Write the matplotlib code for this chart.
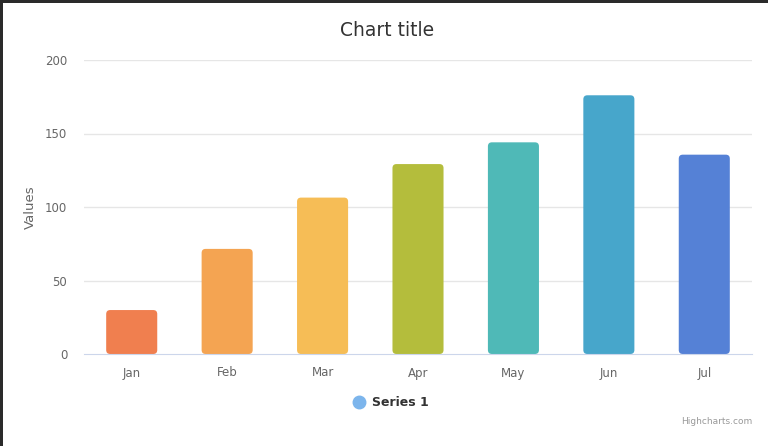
import matplotlib
matplotlib.use("Agg")
import matplotlib.pyplot as plt
from matplotlib.patches import FancyBboxPatch, Rectangle
from matplotlib.lines import Line2D

months = ["Jan", "Feb", "Mar", "Apr", "May", "Jun", "Jul"]
values = [29.9, 71.5, 106.4, 129.2, 144.0, 176.0, 135.6]
colors = ["#f07f4f", "#f4a452", "#f6bd56", "#b4bd3c", "#4fb9b7", "#47a6cb", "#5581d6"]
yticks = [0, 50, 100, 150, 200]

W, H = 768, 446
fig = plt.figure(figsize=(W / 100, H / 100), dpi=100)
fig.patch.set_facecolor("white")

# plot area in pixels
left, right, top, bottom = 84, 752, 60, 354
ax = fig.add_axes([left / W, (H - bottom) / H, (right - left) / W, (bottom - top) / H])
ax.set_xlim(-0.5, len(months) - 0.5)
ax.set_ylim(0, 200)

for y in yticks[1:]:
    ax.axhline(y, color="#e6e6e6", lw=1, zorder=0)

# rounded bars
bw = 0.535
px_x = (right - left) / len(months)
px_y = (bottom - top) / 200
aspect = px_x / px_y
r = 4 / px_x
for i, (v, c) in enumerate(zip(values, colors)):
    p = FancyBboxPatch((i - bw / 2, 0), bw, v,
                       boxstyle="round,pad=0,rounding_size=%f" % r,
                       mutation_aspect=aspect, fc=c, ec="none", zorder=2)
    ax.add_patch(p)

for s in ["top", "right", "left"]:
    ax.spines[s].set_visible(False)
ax.spines["bottom"].set_color("#ccd6eb")
ax.spines["bottom"].set_zorder(3)

ax.set_yticks(yticks)
ax.set_xticks(range(len(months)))
ax.set_xticklabels(months)
ax.tick_params(axis="both", length=0, labelsize=8.5, labelcolor="#666666")
ax.tick_params(axis="y", pad=12)
ax.tick_params(axis="x", pad=9)
ax.set_ylabel("Values", fontsize=9.5, color="#666666", labelpad=6)

fig.text(387 / W, 1 - 30 / H, "Chart title", ha="center", va="center",
         fontsize=13.5, color="#333333")

# legend
fig.add_artist(Line2D([359 / W], [1 - 402 / H], marker="o", markersize=9,
                      color="#7cb5ec", lw=0, transform=fig.transFigure))
fig.text(372 / W, 1 - 402 / H, "Series 1", ha="left", va="center",
         fontsize=9, fontweight="bold", color="#333333")

fig.text(752 / W, 1 - 422 / H, "Highcharts.com", ha="right", va="center",
         fontsize=6.5, color="#999999")

# dark frame edges
fig.add_artist(Rectangle((0, 1 - 3 / H), 1, 3 / H, transform=fig.transFigure,
                         fc="#2a2a2a", ec="none"))
fig.add_artist(Rectangle((0, 0), 2.5 / W, 1, transform=fig.transFigure,
                         fc="#2a2a2a", ec="none"))

fig.savefig("out.png", dpi=100)
